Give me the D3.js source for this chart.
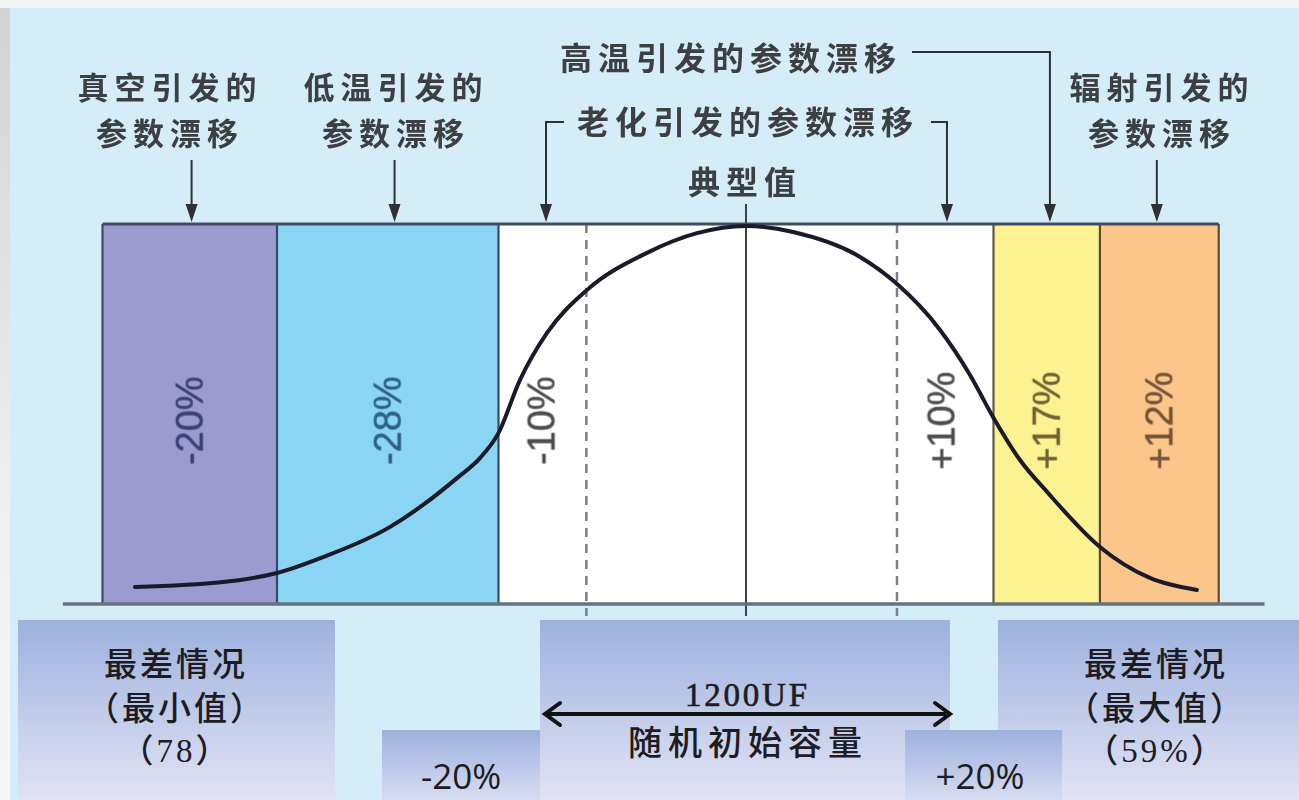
<!DOCTYPE html>
<html><head><meta charset="utf-8">
<script src="https://cdn.jsdelivr.net/npm/d3@7"></script>
<style>html,body{margin:0;padding:0;background:#fff;overflow:hidden} svg{display:block}</style>
</head><body>
<svg id="c" width="1299" height="800"></svg>
<script>
// ---------------- data ----------------
const bandLabels = ["-20%", "-28%", "-10%", "+10%", "+17%", "+12%"];
const bandStart  = [-26.0, -18.95, -10.0, 0, 10.0, 14.3];
const bandEnd    = [-18.95, -10.0, 0, 10.0, 14.3, 19.1];
const bandColors = ["#9b9bd1", "#89d5f3", "#ffffff", "#ffffff", "#fdf291", "#fcc68b"];
const bandTextColors = ["#3b3f74", "#2e5e86", "#4d4d4d", "#4d4d4d", "#6e6232", "#735238"];
const dashedMarks = [-6.45, 6.1];
const typicalValue = 0;
// distribution curve (x in drift units, y relative density)
const curveX = [-24.69, -21.13, -18.95, -17.09, -14.38, -13.05, -11.68, -10.75, -10.02, -9.13, -8.04, -6.42, -4.0, -1.98, 0, 1.9, 4.61, 6.06, 7.84, 9.05, 9.98, 11.07, 12.2, 14.3, 16.32, 18.22];
const curveY = [0.045, 0.058, 0.082, 0.124, 0.204, 0.262, 0.333, 0.386, 0.450, 0.593, 0.717, 0.831, 0.929, 0.981, 1.0, 0.984, 0.918, 0.849, 0.725, 0.606, 0.495, 0.381, 0.294, 0.151, 0.069, 0.037];
// top annotations
const topLabels = [
  {lines: ["真空引发的", "参数漂移"], target: -22.4},
  {lines: ["低温引发的", "参数漂移"], target: -14.2},
  {lines: ["辐射引发的", "参数漂移"], target: 16.6}
];
const agingLabel = "老化引发的参数漂移";
const agingTargets = [-8.08, 8.12];
const hotLabel = "高温引发的参数漂移";
const hotTarget = 12.28;
const typicalLabel = "典型值";
// bottom boxes
const minCaseLines = ["最差情况", "（最小值）", "（78）"];
const maxCaseLines = ["最差情况", "（最大值）", "（59%）"];
const centerTop = "1200UF";
const centerBottom = "随机初始容量";
const tolLow = "-20%";
const tolHigh = "+20%";

// ---------------- layout ----------------
const svg = d3.select("#c");
const cx = 746, unit = 24.75;
const x = d3.scaleLinear().domain([-30, 30]).range([cx - 30 * unit, cx + 30 * unit]);
const y = d3.scaleLinear().domain([0, 1]).range([604, 226]);
const boxTop = 224, baseY = 604;

const defs = svg.append("defs");
const g1 = defs.append("linearGradient").attr("id", "boxg").attr("x1", 0).attr("y1", 0).attr("x2", 0).attr("y2", 1);
g1.append("stop").attr("offset", "0%").attr("stop-color", "#9db1de");
g1.append("stop").attr("offset", "100%").attr("stop-color", "#e2e3f4");
const g2 = defs.append("linearGradient").attr("id", "boxs").attr("x1", 0).attr("y1", 0).attr("x2", 0).attr("y2", 1);
g2.append("stop").attr("offset", "0%").attr("stop-color", "#9db1de");
g2.append("stop").attr("offset", "100%").attr("stop-color", "#d8dcf1");
const g3 = defs.append("linearGradient").attr("id", "edge").attr("x1", 0).attr("y1", 0).attr("x2", 0).attr("y2", 1);
g3.append("stop").attr("offset", "0%").attr("stop-color", "#d0d2d4");
g3.append("stop").attr("offset", "60%").attr("stop-color", "#eceeef");
g3.append("stop").attr("offset", "100%").attr("stop-color", "#f6f7f8");
defs.append("filter").attr("id", "soft").append("feGaussianBlur").attr("stdDeviation", 0.45);

// background
svg.append("rect").attr("width", 1299).attr("height", 800).attr("fill", "url(#edge)");
svg.append("rect").attr("x", 0).attr("y", 0).attr("width", 1299).attr("height", 8).attr("fill", "#f4f5f6");
svg.append("rect").attr("x", 10).attr("y", 8).attr("width", 1289).attr("height", 792).attr("fill", "#d4edf9");

// bands
const bands = bandLabels.map((l, i) => ({label: l, s: bandStart[i], e: bandEnd[i], c: bandColors[i], tc: bandTextColors[i]}));
svg.append("g").selectAll("rect").data(bands).join("rect")
  .attr("x", d => x(d.s)).attr("y", boxTop)
  .attr("width", d => x(d.e) - x(d.s)).attr("height", baseY - boxTop)
  .attr("fill", d => d.c);

// dashed marks
svg.append("g").selectAll("line").data(dashedMarks).join("line")
  .attr("x1", d => x(d)).attr("x2", d => x(d))
  .attr("y1", boxTop).attr("y2", baseY + 12)
  .attr("stroke", "#7a7f86").attr("stroke-width", 2.5).attr("stroke-dasharray", "9,7");

// band dividers
const edges = [bandStart[0], bandStart[1], bandStart[2], bandStart[4], bandStart[5], bandEnd[5]];
const edgeCols = ["#3d4a68", "#2f4d6a", "#3a4a5e", "#5c5a40", "#5c4a36", "#5a4d40"];
svg.append("g").selectAll("line").data(edges).join("line")
  .attr("x1", d => x(d)).attr("x2", d => x(d))
  .attr("y1", boxTop).attr("y2", baseY)
  .attr("stroke", (d, i) => edgeCols[i]).attr("stroke-width", 2.2);

// top frame line
svg.append("line").attr("x1", x(bandStart[0])).attr("x2", x(bandEnd[5]))
  .attr("y1", boxTop).attr("y2", boxTop).attr("stroke", "#3f4c62").attr("stroke-width", 3);

// typical value line
svg.append("line").attr("x1", x(typicalValue)).attr("x2", x(typicalValue))
  .attr("y1", 204).attr("y2", baseY + 12).attr("stroke", "#3a3f48").attr("stroke-width", 2);

// baseline
svg.append("line").attr("x1", x(-27.6)).attr("x2", x(20.95))
  .attr("y1", baseY).attr("y2", baseY).attr("stroke", "#66727e").attr("stroke-width", 3.5);

// band labels (rotated)
svg.append("g").selectAll("text").data(bands).join("text")
  .attr("transform", (d, i) => {
    let px;
    if (d.c === "#ffffff") px = d.s < 0 ? x(d.s) + 43 : x(d.e) - 52;
    else px = (x(d.s) + x(d.e)) / 2;
    return `translate(${px},${y(0.485)}) rotate(-90)`;
  })
  .attr("text-anchor", "middle").attr("dominant-baseline", "central")
  .attr("font-family", "Liberation Sans, Arial, sans-serif").attr("font-size", 38)
  .attr("fill", d => d.tc).attr("stroke", d => d.tc).attr("stroke-width", 0.5).attr("filter", "url(#soft)")
  .text(d => d.label);

// curve
const pts = curveX.map((v, i) => [v, curveY[i]]);
svg.append("path").datum(pts)
  .attr("d", d3.line().x(d => x(d[0])).y(d => y(d[1])).curve(d3.curveMonotoneX))
  .attr("fill", "none").attr("stroke", "#1a1a28").attr("stroke-width", 4).attr("stroke-linecap", "round");

// arrows helper
const arrowCol = "#2e3036";
function arrowHead(px, tipY) {
  svg.append("path").attr("d", `M${px - 6},${tipY - 18} L${px + 6},${tipY - 18} L${px},${tipY} Z`).attr("fill", arrowCol);
}
const topFont = "Noto Sans CJK SC, sans-serif";
function label(txt, px, py, size) {
  return svg.append("text").attr("x", px).attr("y", py)
    .attr("text-anchor", "middle").attr("dominant-baseline", "central")
    .attr("font-family", topFont).attr("font-weight", 700).attr("font-size", size)
    .attr("letter-spacing", 6).attr("fill", "#3e3f42").attr("filter", "url(#soft)").text(txt);
}

// simple labels with arrows
const labelCenters = [170, 396, 1162];
topLabels.forEach((d, i) => {
  label(d.lines[0], labelCenters[i], 85, 31);
  label(d.lines[1], labelCenters[i], 131, 31);
  const px = x(d.target);
  svg.append("line").attr("x1", px).attr("x2", px).attr("y1", 160).attr("y2", 208)
    .attr("stroke", arrowCol).attr("stroke-width", 2);
  arrowHead(px, boxTop - 2);
});

// hot drift label
label(hotLabel, 731, 56, 32);
{
  const px = x(hotTarget);
  svg.append("path").attr("d", `M912,52 H${px} V208`).attr("fill", "none").attr("stroke", arrowCol).attr("stroke-width", 2);
  arrowHead(px, boxTop - 2);
}
// aging label
label(agingLabel, 748, 120, 32);
{
  const lx = x(agingTargets[0]), rx = x(agingTargets[1]);
  svg.append("path").attr("d", `M564,122 H${lx} V208`).attr("fill", "none").attr("stroke", arrowCol).attr("stroke-width", 2);
  svg.append("path").attr("d", `M931,122 H${rx} V208`).attr("fill", "none").attr("stroke", arrowCol).attr("stroke-width", 2);
  arrowHead(lx, boxTop - 2);
  arrowHead(rx, boxTop - 2);
}
// typical value
label(typicalLabel, 745, 180, 32);

// ---------------- bottom boxes ----------------
svg.append("rect").attr("x", 18).attr("y", 620).attr("width", 317).attr("height", 180).attr("fill", "url(#boxg)");
svg.append("rect").attr("x", 540).attr("y", 620).attr("width", 410).attr("height", 180).attr("fill", "url(#boxg)");
svg.append("rect").attr("x", 998).attr("y", 620).attr("width", 301).attr("height", 180).attr("fill", "url(#boxg)");
svg.append("rect").attr("x", 382).attr("y", 730).attr("width", 158).attr("height", 70).attr("fill", "url(#boxs)");
svg.append("rect").attr("x", 905).attr("y", 730).attr("width", 157).attr("height", 70).attr("fill", "url(#boxs)");

const serif = "Liberation Serif, Noto Sans CJK SC, serif";
function boxLines(lines, px) {
  const ys = [665, 709, 751];
  lines.forEach((t, i) => {
    svg.append("text").attr("x", px).attr("y", ys[i])
      .attr("text-anchor", "middle").attr("dominant-baseline", "central")
      .attr("font-family", serif).attr("font-size", 33).attr("font-weight", 500)
      .attr("letter-spacing", 3).attr("fill", "#1c1c22").text(t);
  });
}
boxLines(minCaseLines, 176);
boxLines(maxCaseLines, 1156);

svg.append("text").attr("x", 746).attr("y", 695).attr("text-anchor", "middle").attr("dominant-baseline", "central")
  .attr("font-family", serif).attr("font-size", 33).attr("fill", "#1c1c22")
  .attr("stroke", "#1c1c22").attr("stroke-width", 0.6).attr("textLength", 122).text(centerTop);
svg.append("text").attr("x", 748).attr("y", 743).attr("text-anchor", "middle").attr("dominant-baseline", "central")
  .attr("font-family", serif).attr("font-size", 34).attr("font-weight", 500).attr("letter-spacing", 6).attr("fill", "#1c1c22").text(centerBottom);

// double arrow
svg.append("line").attr("x1", 548).attr("x2", 946).attr("y1", 714).attr("y2", 714).attr("stroke", "#111").attr("stroke-width", 4);
svg.append("path").attr("d", "M560,703 L545,714 L560,725").attr("fill", "none").attr("stroke", "#111").attr("stroke-width", 4).attr("stroke-linecap", "round");
svg.append("path").attr("d", "M935,703 L950,714 L935,725").attr("fill", "none").attr("stroke", "#111").attr("stroke-width", 4).attr("stroke-linecap", "round");

svg.append("text").attr("x", 461).attr("y", 789).attr("text-anchor", "middle")
  .attr("font-family", "Open Sans, Liberation Sans, sans-serif").attr("font-size", 35).attr("fill", "#1c1c22").text(tolLow);
svg.append("text").attr("x", 980).attr("y", 789).attr("text-anchor", "middle")
  .attr("font-family", "Open Sans, Liberation Sans, sans-serif").attr("font-size", 35).attr("fill", "#1c1c22").text(tolHigh);
</script>
</body></html>
